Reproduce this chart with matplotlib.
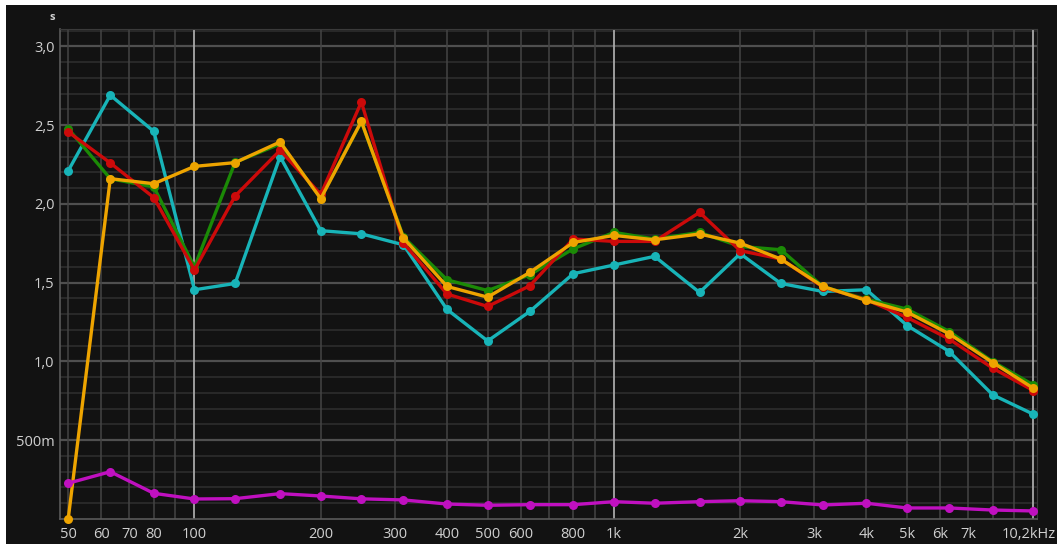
import numpy as np
import matplotlib
matplotlib.use("Agg")
import matplotlib.pyplot as plt
from matplotlib.patches import Rectangle
from matplotlib.ticker import FixedLocator, NullFormatter

# 1/3-octave band centre frequencies (Hz)
freqs = [50, 63, 80, 100, 125, 160, 200, 250, 315, 400, 500, 630, 800,
         1000, 1250, 1600, 2000, 2500, 3150, 4000, 5000, 6300, 8000, 10000]

# Reverberation time per band (s)
rt_cyan = [2.21, 2.69, 2.46, 1.455, 1.495, 2.30, 1.83, 1.81, 1.74, 1.33, 1.13, 1.317,
           1.557, 1.612, 1.667, 1.438, 1.684, 1.495, 1.444, 1.455, 1.228, 1.063, 0.788, 0.665]
rt_green = [2.478, 2.16, 2.107, 1.60, 2.264, 2.38, 2.04, 2.52, 1.79, 1.518, 1.45, 1.55,
            1.715, 1.819, 1.777, 1.819, 1.73, 1.709, 1.475, 1.395, 1.332, 1.19, 0.999, 0.851]
rt_red = [2.457, 2.26, 2.04, 1.58, 2.05, 2.34, 2.06, 2.647, 1.751, 1.428, 1.349, 1.48,
          1.777, 1.762, 1.762, 1.946, 1.703, 1.65, 1.472, 1.391, 1.279, 1.142, 0.957, 0.815]
rt_orange = [0.0, 2.16, 2.128, 2.238, 2.262, 2.393, 2.033, 2.524, 1.783, 1.476, 1.408, 1.565,
             1.755, 1.80, 1.772, 1.809, 1.751, 1.65, 1.476, 1.387, 1.313, 1.175, 0.993, 0.83]
rt_magenta = [0.227, 0.30, 0.163, 0.127, 0.129, 0.161, 0.146, 0.128, 0.121, 0.095, 0.087, 0.091,
              0.091, 0.11, 0.10, 0.11, 0.116, 0.11, 0.089, 0.10, 0.07, 0.07, 0.057, 0.051]

x_tick_vals = [50, 60, 70, 80, 100, 200, 300, 400, 500, 600, 800, 1000,
               2000, 3000, 4000, 5000, 6000, 7000]
x_tick_labels = ["50", "60", "70", "80", "100", "200", "300", "400", "500", "600", "800", "1k",
                 "2k", "3k", "4k", "5k", "6k", "7k"]
y_tick_vals = [0.5, 1.0, 1.5, 2.0, 2.5, 3.0]
y_tick_labels = ["500m", "1,0", "1,5", "2,0", "2,5", "3,0"]

BG = "#121212"
TXT = "#d0d0d0"
plt.rcParams["font.family"] = ["Open Sans", "DejaVu Sans"]

W, H = 1057, 544
fig = plt.figure(figsize=(W / 100, H / 100), dpi=100, facecolor=BG)

# light margin along the top and left edges of the window
fig.patches.append(Rectangle((0, 0), 6 / W, 1, transform=fig.transFigure,
                             facecolor="white", edgecolor="none", zorder=-1))
fig.patches.append(Rectangle((0, (H - 5) / H), 1, 5 / H, transform=fig.transFigure,
                             facecolor="white", edgecolor="none", zorder=-1))

ax = fig.add_axes([60 / W, (H - 519) / H, (1037 - 60) / W, (519 - 29) / H], facecolor=BG)

ax.set_xscale("log")
ax.set_xlim(47.8, 10200)
ax.set_ylim(0, 3.11)

# grid: fine horizontal lines every 0.1 s, stronger every 0.5 s
for v in np.arange(0.1, 3.11, 0.1):
    major = abs(v / 0.5 - round(v / 0.5)) < 1e-6
    ax.axhline(v, color="#4f4f4f" if major else "#303030", lw=1.6 if major else 1.1, zorder=0)

# vertical lines on the 1-2-...-9 pattern, decades brighter
vlines = [50, 60, 70, 80, 90] + [m * d for d in (100, 1000) for m in range(2, 10)]
for f in vlines:
    ax.axvline(f, color="#444444", lw=1.1, zorder=0)
for f in (100, 1000, 10000):
    ax.axvline(f, color="#a8a8a8", lw=1.3, zorder=0)

series = [
    (rt_cyan, "#18b4b8"),
    (rt_green, "#1b8a06"),
    (rt_red, "#cc0a0a"),
    (rt_orange, "#eea400"),
    (rt_magenta, "#c010c0"),
]
for vals, col in series:
    ax.plot(freqs, vals, color=col, lw=2.4, marker="o", ms=6.5,
            markeredgewidth=0, clip_on=False, zorder=3)

for side in ("top", "right"):
    ax.spines[side].set_color("#3a3a3a")
for side in ("left", "bottom"):
    ax.spines[side].set_color("#5a5a5a")
    ax.spines[side].set_linewidth(1.2)

ax.xaxis.set_major_locator(FixedLocator(x_tick_vals))
ax.set_xticklabels(x_tick_labels)
ax.xaxis.set_minor_locator(FixedLocator([]))
ax.xaxis.set_minor_formatter(NullFormatter())
ax.set_yticks(y_tick_vals)
ax.set_yticklabels(y_tick_labels)
ax.tick_params(axis="both", length=0, colors=TXT, labelsize=10.5)
ax.tick_params(axis="x", pad=6)
ax.tick_params(axis="y", pad=4)

fig.text(1056 / W, (H - 535) / H, "10,2kHz", color=TXT, fontsize=10.5,
         ha="right", va="center")
fig.text(52 / W, (H - 17) / H, "s", color=TXT, fontsize=8, fontweight="bold",
         ha="center", va="center")

fig.savefig("out.png", dpi=100, facecolor=BG)
